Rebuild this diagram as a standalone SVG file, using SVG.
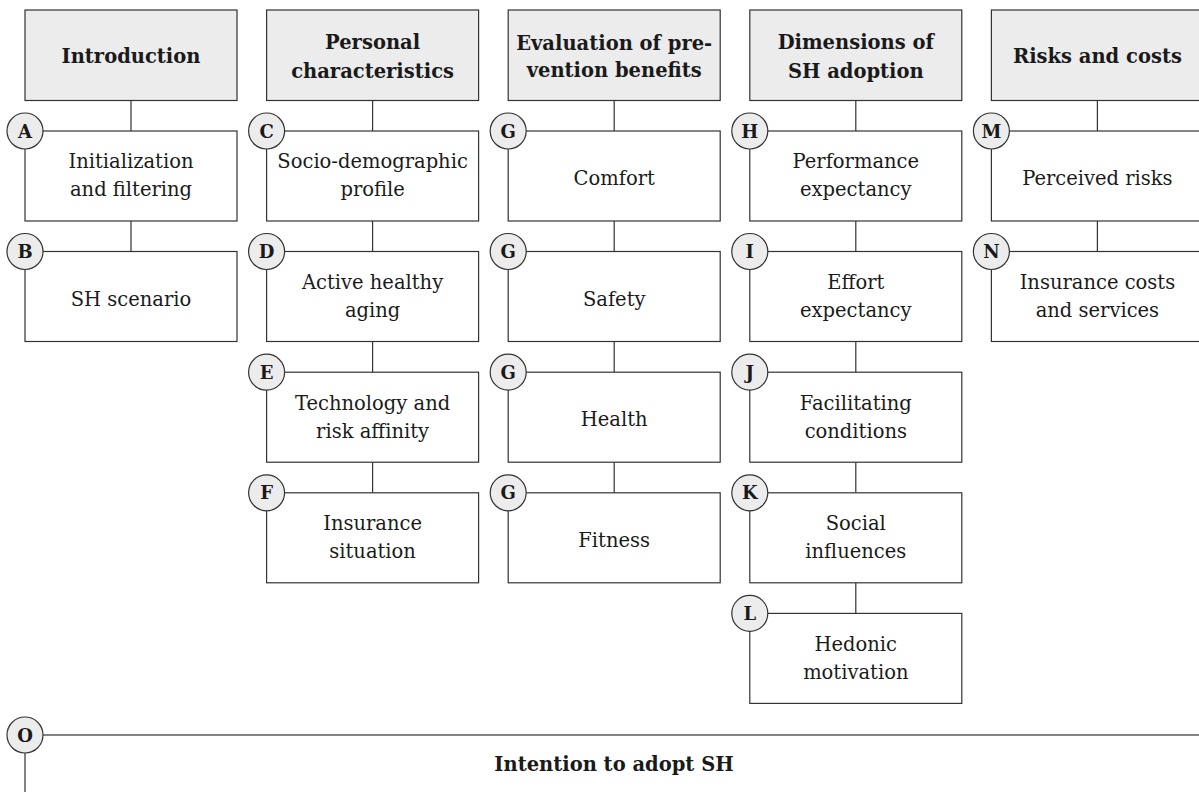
<svg xmlns="http://www.w3.org/2000/svg" width="1199" height="792" viewBox="0 0 1199 792">
<style>
.hdr{fill:#ececec;stroke:#333;stroke-width:1.2}
.box{fill:#fff;stroke:#333;stroke-width:1.2}
.lbl{fill:#ececec;stroke:#333;stroke-width:1.2}
.con{stroke:#333;stroke-width:1.2;fill:none}
text{font-family:"DejaVu Serif","Liberation Serif",serif;font-size:19.5px;fill:#1a1a1a;text-anchor:middle}
.b{font-weight:bold}
.lt{font-weight:bold;font-size:18px}
</style>
<rect width="1199" height="792" fill="#fff"/>
<g id="connectors">
<path class="con" d="M131,100.5V131M131,221V251.5"/>
<path class="con" d="M372.6,100.5V131M372.6,221V251.5M372.6,341.5V372.2M372.6,462.2V492.8"/>
<path class="con" d="M614.2,100.5V131M614.2,221V251.5M614.2,341.5V372.2M614.2,462.2V492.8"/>
<path class="con" d="M855.8,100.5V131M855.8,221V251.5M855.8,341.5V372.2M855.8,462.2V492.8M855.8,582.8V613.4"/>
<path class="con" d="M1097.4,100.5V131M1097.4,221V251.5"/>
</g>
<g id="col1">
<g id="introduction"><rect class="hdr" x="25" y="10" width="212" height="90.5"/><text class="b" x="131" y="63">Introduction</text></g>
<g id="nodeA"><rect class="box" x="25" y="131" width="212" height="90"/><text x="131" y="168">Initialization</text><text x="131" y="196">and filtering</text><circle class="lbl" cx="25" cy="131" r="18"/><text class="lt" x="25" y="137.5">A</text></g>
<g id="nodeB"><rect class="box" x="25" y="251.5" width="212" height="90"/><text x="131" y="305.5">SH scenario</text><circle class="lbl" cx="25" cy="251.5" r="18"/><text class="lt" x="25" y="258">B</text></g>
</g>
<g id="col2">
<g id="personal"><rect class="hdr" x="266.6" y="10" width="212" height="90.5"/><text class="b" x="372.6" y="49">Personal</text><text class="b" x="372.6" y="78">characteristics</text></g>
<g id="nodeC"><rect class="box" x="266.6" y="131" width="212" height="90"/><text x="372.6" y="168">Socio-demographic</text><text x="372.6" y="196">profile</text><circle class="lbl" cx="266.6" cy="131" r="18"/><text class="lt" x="266.6" y="137.5">C</text></g>
<g id="nodeD"><rect class="box" x="266.6" y="251.5" width="212" height="90"/><text x="372.6" y="288.5">Active healthy</text><text x="372.6" y="316.5">aging</text><circle class="lbl" cx="266.6" cy="251.5" r="18"/><text class="lt" x="266.6" y="258">D</text></g>
<g id="nodeE"><rect class="box" x="266.6" y="372.2" width="212" height="90"/><text x="372.6" y="409.5">Technology and</text><text x="372.6" y="437.5">risk affinity</text><circle class="lbl" cx="266.6" cy="372.2" r="18"/><text class="lt" x="266.6" y="378.7">E</text></g>
<g id="nodeF"><rect class="box" x="266.6" y="492.8" width="212" height="90"/><text x="372.6" y="530">Insurance</text><text x="372.6" y="558">situation</text><circle class="lbl" cx="266.6" cy="492.8" r="18"/><text class="lt" x="266.6" y="499.3">F</text></g>
</g>
<g id="col3">
<g id="evaluation"><rect class="hdr" x="508.2" y="10" width="212" height="90.5"/><text class="b" x="614.2" y="50">Evaluation of pre-</text><text class="b" x="614.2" y="77">vention benefits</text></g>
<g id="nodeG1"><rect class="box" x="508.2" y="131" width="212" height="90"/><text x="614.2" y="185">Comfort</text><circle class="lbl" cx="508.2" cy="131" r="18"/><text class="lt" x="508.2" y="137.5">G</text></g>
<g id="nodeG2"><rect class="box" x="508.2" y="251.5" width="212" height="90"/><text x="614.2" y="305.5">Safety</text><circle class="lbl" cx="508.2" cy="251.5" r="18"/><text class="lt" x="508.2" y="258">G</text></g>
<g id="nodeG3"><rect class="box" x="508.2" y="372.2" width="212" height="90"/><text x="614.2" y="426">Health</text><circle class="lbl" cx="508.2" cy="372.2" r="18"/><text class="lt" x="508.2" y="378.7">G</text></g>
<g id="nodeG4"><rect class="box" x="508.2" y="492.8" width="212" height="90"/><text x="614.2" y="546.5">Fitness</text><circle class="lbl" cx="508.2" cy="492.8" r="18"/><text class="lt" x="508.2" y="499.3">G</text></g>
</g>
<g id="col4">
<g id="dimensions"><rect class="hdr" x="749.8" y="10" width="212" height="90.5"/><text class="b" x="855.8" y="49">Dimensions of</text><text class="b" x="855.8" y="78">SH adoption</text></g>
<g id="nodeH"><rect class="box" x="749.8" y="131" width="212" height="90"/><text x="855.8" y="168">Performance</text><text x="855.8" y="196">expectancy</text><circle class="lbl" cx="749.8" cy="131" r="18"/><text class="lt" x="749.8" y="137.5">H</text></g>
<g id="nodeI"><rect class="box" x="749.8" y="251.5" width="212" height="90"/><text x="855.8" y="288.5">Effort</text><text x="855.8" y="316.5">expectancy</text><circle class="lbl" cx="749.8" cy="251.5" r="18"/><text class="lt" x="749.8" y="258">I</text></g>
<g id="nodeJ"><rect class="box" x="749.8" y="372.2" width="212" height="90"/><text x="855.8" y="409.5">Facilitating</text><text x="855.8" y="437.5">conditions</text><circle class="lbl" cx="749.8" cy="372.2" r="18"/><text class="lt" x="749.8" y="378.7">J</text></g>
<g id="nodeK"><rect class="box" x="749.8" y="492.8" width="212" height="90"/><text x="855.8" y="530">Social</text><text x="855.8" y="558">influences</text><circle class="lbl" cx="749.8" cy="492.8" r="18"/><text class="lt" x="749.8" y="499.3">K</text></g>
<g id="nodeL"><rect class="box" x="749.8" y="613.4" width="212" height="90"/><text x="855.8" y="650.5">Hedonic</text><text x="855.8" y="678.5">motivation</text><circle class="lbl" cx="749.8" cy="613.4" r="18"/><text class="lt" x="749.8" y="619.9">L</text></g>
</g>
<g id="col5">
<g id="risks"><rect class="hdr" x="991.4" y="10" width="212" height="90.5"/><text class="b" x="1097.4" y="63">Risks and costs</text></g>
<g id="nodeM"><rect class="box" x="991.4" y="131" width="212" height="90"/><text x="1097.4" y="185">Perceived risks</text><circle class="lbl" cx="991.4" cy="131" r="18"/><text class="lt" x="991.4" y="137.5">M</text></g>
<g id="nodeN"><rect class="box" x="991.4" y="251.5" width="212" height="90"/><text x="1097.4" y="288.5">Insurance costs</text><text x="1097.4" y="316.5">and services</text><circle class="lbl" cx="991.4" cy="251.5" r="18"/><text class="lt" x="991.4" y="258">N</text></g>
</g>
<g id="nodeO">
<rect class="box" x="25" y="735" width="1178" height="90"/>
<text class="b" x="614" y="771">Intention to adopt SH</text>
<circle class="lbl" cx="25" cy="735" r="18"/><text class="lt" x="25" y="741.5">O</text>
</g>
</svg>
